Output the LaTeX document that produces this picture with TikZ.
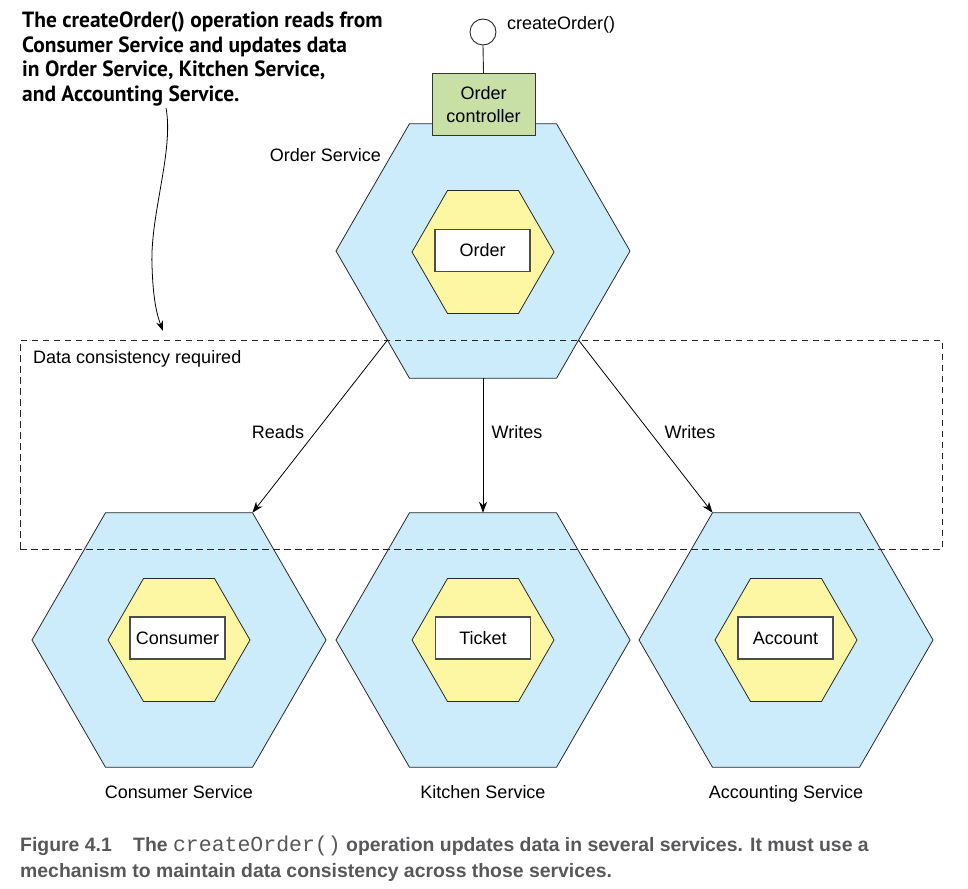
\documentclass[tikz,border=0pt]{standalone}
\usepackage{fontspec}
\setmainfont{Liberation Sans}
\newfontfamily\annfont[FakeStretch=0.975]{PT Sans}
\newfontfamily\capfont{Liberation Sans}
\newfontfamily\capmono{Liberation Mono}
\usetikzlibrary{shapes.geometric,arrows.meta}
\definecolor{svcblue}{RGB}{205,236,251}
\definecolor{aggyellow}{RGB}{253,246,163}
\definecolor{ctrlgreen}{RGB}{200,224,165}
\definecolor{capgray}{RGB}{88,88,90}
\definecolor{edgegray}{RGB}{40,40,40}
\tikzset{
  svc/.style={regular polygon, regular polygon sides=6, minimum size=294pt, inner sep=0pt, outer sep=0pt, fill=svcblue, draw=edgegray, line width=0.8pt},
  agg/.style={regular polygon, regular polygon sides=6, minimum size=142pt, inner sep=0pt, outer sep=0pt, fill=aggyellow, draw=edgegray, line width=0.8pt},
  entity/.style={draw=black!70, line width=1.1pt, fill=white, minimum width=95pt, minimum height=42pt, inner sep=0pt, font=\fontsize{18}{20}\selectfont},
  ctrlbox/.style={draw=black!80, line width=1pt, fill=ctrlgreen, minimum width=103pt, minimum height=61pt, inner sep=0pt, align=center, font=\fontsize{18}{23}\selectfont},
  lbl/.style={font=\fontsize{18}{20}\selectfont, inner sep=0pt},
  annlbl/.style={font=\annfont\bfseries\fontsize{22}{24}\selectfont, inner sep=0pt, anchor=base west},
  caplbl/.style={font=\capfont\bfseries\fontsize{19.4}{24}\selectfont, text=capgray, inner sep=0pt, anchor=base west},
  conn/.style={-{Stealth[length=11pt,width=8pt]}, line width=0.8pt},
  dcbox/.style={draw=black!85, dash pattern=on 6.5pt off 4.5pt, line width=0.8pt, minimum width=922pt, minimum height=209pt, inner sep=0pt, anchor=north west}
}
\begin{document}
\begin{tikzpicture}[x=1pt,y=-1pt]
\useasboundingbox[fill=white] (0,0) rectangle (968,888);

% service hexagons
\node[svc] (ordsvc) at (483,251) {};
\node[agg] (ordagg) at (483,252) {};
\node[entity] (order) at (482.5,250.5) {Order};

\node[svc] (cons) at (179,640) {};
\node[agg] (consagg) at (179,640) {};
\node[entity] (consumer) at (177.5,638) {Consumer};

\node[svc] (kit) at (483,640) {};
\node[agg] (kitagg) at (483,640) {};
\node[entity] (ticket) at (483,638) {Ticket};

\node[svc] (acc) at (786,640) {};
\node[agg] (accagg) at (786,640) {};
\node[entity] (account) at (785.5,638) {Account};

% controller and interface
\node[ctrlbox] (ctrl) at (483.5,104.5) {Order\\controller};
\node[circle, draw=black!85, line width=0.9pt, fill=white, minimum size=26pt, inner sep=0pt] (iface) at (483,32) {};
\draw[line width=0.9pt, black!85] (iface.south) -- (ctrl.north);
\node[lbl, anchor=west] (ifacelbl) at (507,25) {createOrder()};

\node[lbl, anchor=east] (ordlbl) at (381,155) {Order Service};

% data consistency box
\node[dcbox] (dc) at (20,340) {};
\node[lbl, anchor=west] (dclbl) at (33,359) {Data consistency required};

% connectors
\draw[conn] (ordsvc.223) -- (cons.60);
\draw[conn] (ordsvc.south) -- (kit.north);
\draw[conn] (ordsvc.317) -- (acc.120);
\node[lbl] (readslbl) at (278,432) {Reads};
\node[lbl] (writes1) at (517,432) {Writes};
\node[lbl] (writes2) at (690,432) {Writes};

% service names
\node[lbl, anchor=base] (conslbl) at (179,798.5) {Consumer Service};
\node[lbl, anchor=base] (kitlbl) at (483,798.5) {Kitchen Service};
\node[lbl, anchor=base] (acclbl) at (786,798.5) {Accounting Service};

% annotation
\node[annlbl] (ann1) at (22,28) {The createOrder() operation reads from};
\node[annlbl] (ann2) at (22,52.5) {Consumer Service and updates data};
\node[annlbl] (ann3) at (22,77) {in Order Service, Kitchen Service,};
\node[annlbl] (ann4) at (22,101.5) {and Accounting Service.};
\coordinate (annstart) at (166,108);
\coordinate (anntip) at (163,331);
\draw[-{Stealth[length=10pt,width=7pt]}, line width=0.8pt] (annstart) .. controls (174,150) and (150,215) .. (152,265) .. controls (153,300) and (157,315) .. (anntip);

% caption
\node[caplbl] (cap1) at (20,851) {Figure 4.1\hspace{1.1em}The {\capmono\mdseries\fontsize{21.5}{24}\selectfont createOrder()} operation updates data in several services. It must use a};
\node[caplbl] (cap2) at (20,877) {mechanism to maintain data consistency across those services.};
\end{tikzpicture}
\end{document}
